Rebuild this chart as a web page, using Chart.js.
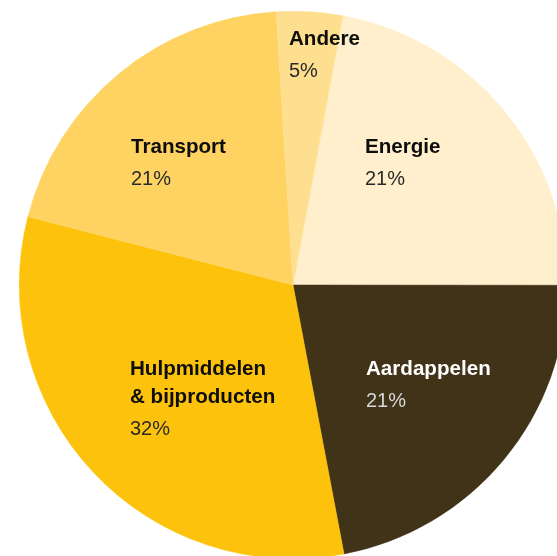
<!DOCTYPE html>
<html>
<head>
<meta charset="utf-8">
<script src="https://cdn.jsdelivr.net/npm/chart.js@4"></script>
<style>
  html, body { margin: 0; padding: 0; background: #ffffff; overflow: hidden; width: 557px; height: 556px; }
  #wrap { position: relative; width: 557px; height: 556px; overflow: hidden; }
  #c { position: absolute; left: 19px; top: 11px; }
</style>
</head>
<body>
<div id="wrap"><canvas id="c" width="548" height="548"></canvas></div>
<script>
// Data (slice shares, clockwise from the Energie slice)
const categories = ["Energie", "Aardappelen", "Hulpmiddelen\n& bijproducten", "Transport", "Andere"];
const shareValues = [22.1, 22.0, 32.0, 20.0, 3.9];
const percentLabels = ["21%", "21%", "32%", "21%", "5%"];

// Styling / layout (kept separate from data)
const sliceColors = ["#FFEFCC", "#403318", "#FDC30C", "#FED362", "#FEDE8F"];
const titleColors = ["#0d0d0d", "#ffffff", "#0d0d0d", "#0d0d0d", "#0d0d0d"];
const pctColors = ["#2a2a2a", "#d8d8d8", "#2a2a2a", "#2a2a2a", "#2a2a2a"];
// label anchor offsets from pie centre (left edge, first baseline)
const labelOffsets = [[72, -132], [73, 90], [-163, 90], [-162, -132], [-4, -240]];

const labelPlugin = {
  id: 'sliceLabels',
  afterDraw(chart) {
    const ctx = chart.ctx;
    const arc0 = chart.getDatasetMeta(0).data[0];
    const cx = arc0.x, cy = arc0.y;
    ctx.save();
    ctx.textAlign = 'left';
    ctx.textBaseline = 'alphabetic';
    categories.forEach((cat, i) => {
      const [dx, dy] = labelOffsets[i];
      const x = cx + dx;
      let y = cy + dy;
      const lines = cat.split('\n');
      ctx.font = 'bold 20.6px "Liberation Sans", Arial, sans-serif';
      ctx.fillStyle = titleColors[i];
      lines.forEach((ln, k) => {
        ctx.fillText(ln, x, y);
        if (k < lines.length - 1) y += 28;
      });
      y += 32;
      ctx.font = '20px "Liberation Sans", Arial, sans-serif';
      ctx.fillStyle = pctColors[i];
      ctx.fillText(percentLabels[i], x, y);
    });
    ctx.restore();
  }
};

new Chart(document.getElementById('c'), {
  type: 'pie',
  data: {
    labels: categories,
    datasets: [{
      data: shareValues,
      backgroundColor: sliceColors,
      borderColor: sliceColors,
      borderWidth: 0.5
    }]
  },
  options: {
    responsive: false,
    maintainAspectRatio: false,
    animation: false,
    rotation: 10.5,
    layout: { padding: 0 },
    plugins: {
      legend: { display: false },
      tooltip: { enabled: false }
    }
  },
  plugins: [labelPlugin]
});
</script>
</body>
</html>
